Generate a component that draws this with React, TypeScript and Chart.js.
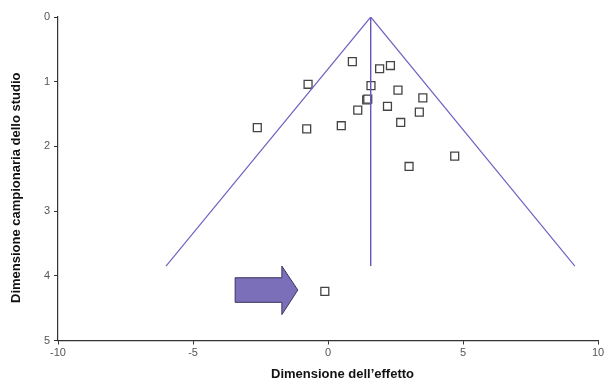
import React, { useEffect, useRef } from "react";
import { Chart, registerables } from "chart.js";

Chart.register(...registerables);

// Study points (effect size, sample-size measure)
const studyX = [0.9, 1.91, 2.31, -0.74, 1.59, 2.59, 3.51, 1.43, 1.47, 1.1, 2.2, 3.38, -2.62, -0.79, 0.49, 2.69, 3.0, 4.69, -0.12];
const studyY = [0.69, 0.8, 0.75, 1.04, 1.06, 1.13, 1.25, 1.28, 1.27, 1.44, 1.38, 1.47, 1.71, 1.73, 1.68, 1.63, 2.31, 2.15, 4.24];

// Funnel outline and centre line
const funnelX = [-6.0, 1.58, 9.14];
const funnelY = [3.85, 0, 3.85];
const centerX = [1.58, 1.58];
const centerY = [0, 3.85];

// Arrow polygon (data coordinates)
const arrowX = [-3.44, -1.71, -1.71, -1.12, -1.71, -1.71, -3.44];
const arrowY = [4.03, 4.03, 3.85, 4.22, 4.6, 4.41, 4.41];

// Axis tick values
const xTicks = [-10, -5, 0, 5, 10];
const yTicks = [0, 1, 2, 3, 4, 5];

const xTitle = "Dimensione dell\u2019effetto";
const yTitle = "Dimensione campionaria dello studio";

const toPts = (xs: number[], ys: number[]) => xs.map((x, i) => ({ x, y: ys[i] }));

const arrowPlugin = {
  id: "arrowShape",
  afterDatasetsDraw(chart: any) {
    const { ctx, scales } = chart;
    const xs = scales.x;
    const ys = scales.y;
    ctx.save();
    ctx.beginPath();
    arrowX.forEach((x, i) => {
      const px = xs.getPixelForValue(x);
      const py = ys.getPixelForValue(arrowY[i]);
      if (i === 0) ctx.moveTo(px, py);
      else ctx.lineTo(px, py);
    });
    ctx.closePath();
    ctx.fillStyle = "#7a6fb8";
    ctx.fill();
    ctx.lineWidth = 1;
    ctx.strokeStyle = "#3a3360";
    ctx.stroke();
    ctx.restore();
  },
};

export default function App() {
  const ref = useRef<HTMLCanvasElement | null>(null);
  useEffect(() => {
    if (!ref.current) return;
    const lineColor = "#7264c2";
    const chart = new Chart(ref.current, {
      type: "scatter",
      data: {
        datasets: [
          {
            data: toPts(funnelX, funnelY),
            showLine: true,
            borderColor: lineColor,
            borderWidth: 1.2,
            pointRadius: 0,
            fill: false,
          },
          {
            data: toPts(centerX, centerY),
            showLine: true,
            borderColor: "#6656b8",
            borderWidth: 1.4,
            pointRadius: 0,
            fill: false,
          },
          {
            data: toPts(studyX, studyY),
            pointStyle: "rect",
            pointRadius: 5.6,
            borderColor: "#444444",
            backgroundColor: "#ffffff",
            borderWidth: 1.3,
          },
        ],
      },
      options: {
        responsive: false,
        animation: false,
        layout: { padding: { left: 0, top: 17, right: 4, bottom: 0 } },
        plugins: {
          legend: { display: false },
          tooltip: { enabled: false },
        },
        scales: {
          x: {
            type: "linear",
            min: -10,
            max: 10,
            afterBuildTicks: (scale: any) => {
              scale.ticks = xTicks.map((v) => ({ value: v }));
            },
            afterFit: (scale: any) => {
              scale.height = 40.5;
              scale.paddingRight = 0;
              scale.paddingLeft = 0;
            },
            grid: { drawOnChartArea: false, drawTicks: true, tickLength: 4, color: "#333333" },
            border: { display: true, color: "#333333", width: 1.2 },
            ticks: {
              color: "#555555",
              padding: 2,
              font: { family: "'Liberation Sans', Arial, sans-serif", size: 11 },
            },
            title: {
              display: true,
              text: "        " + xTitle,
              color: "#111111",
              font: { family: "'Liberation Sans', Arial, sans-serif", size: 13, weight: "bold", lineHeight: 1 },
              padding: { top: 0, bottom: 0 },
            },
          },
          y: {
            type: "linear",
            reverse: true,
            min: 0,
            max: 5,
            afterBuildTicks: (scale: any) => {
              scale.ticks = yTicks.map((v) => ({ value: v }));
            },
            afterFit: (scale: any) => {
              scale.width = 58;
            },
            grid: { drawOnChartArea: false, drawTicks: true, tickLength: 4, color: "#333333" },
            border: { display: true, color: "#333333", width: 1.2 },
            ticks: {
              color: "#555555",
              padding: 4,
              font: { family: "'Liberation Sans', Arial, sans-serif", size: 11 },
            },
            title: {
              display: true,
              text: yTitle + "     ",
              color: "#111111",
              font: { family: "'Liberation Sans', Arial, sans-serif", size: 13, weight: "bold", lineHeight: 1 },
              padding: { top: 10, bottom: 0 },
            },
          },
        },
      },
      plugins: [arrowPlugin],
    } as any);
    return () => chart.destroy();
  }, []);
  return (
    <div style={{ position: "fixed", left: 0, top: 0, width: 605, height: 381, background: "#ffffff" }}>
      <canvas ref={ref} width={605} height={381} style={{ display: "block" }} />
    </div>
  );
}
